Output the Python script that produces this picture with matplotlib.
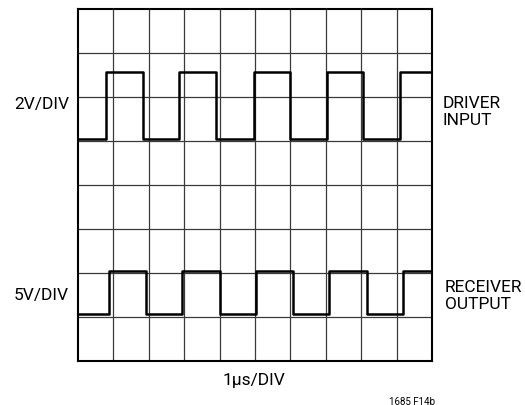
import numpy as np
import matplotlib
matplotlib.use('Agg')
import matplotlib.pyplot as plt

plt.rcParams['font.family'] = ['Roboto', 'DejaVu Sans']

# scope screen: 10 x 8 divisions
n_xdiv = 10
n_ydiv = 8

# driver input trace (div units)
drv_edges = [0.78, 1.83, 2.86, 3.90, 4.97, 5.99, 7.02, 8.06, 9.11]
drv_low = 5.05
drv_high = 6.57

# receiver output trace (div units)
rcv_edges = [0.88, 1.92, 2.95, 4.01, 5.03, 6.06, 7.10, 8.15, 9.19]
rcv_low = 1.07
rcv_high = 2.04


def square_wave(edges, low, high, x_end):
    # start low, toggle at each edge
    xs = [0.0]
    ys = [low]
    level = low
    for e in edges:
        xs.append(e)
        ys.append(level)
        level = high if level == low else low
        xs.append(e)
        ys.append(level)
    xs.append(x_end)
    ys.append(level)
    return np.array(xs), np.array(ys)


fig = plt.figure(figsize=(5.25, 4.06), dpi=100)
ax = fig.add_axes([78 / 525, 1 - 362 / 406, 354 / 525, 352 / 406])

ax.set_xlim(0, n_xdiv)
ax.set_ylim(0, n_ydiv)
for i in range(1, n_xdiv):
    ax.axvline(i, color='#3a3a3a', lw=0.9, zorder=1)
for j in range(1, n_ydiv):
    ax.axhline(j, color='#3a3a3a', lw=0.9, zorder=1)

x, y = square_wave(drv_edges, drv_low, drv_high, n_xdiv)
ax.plot(x, y, color='black', lw=1.8, zorder=3)
x, y = square_wave(rcv_edges, rcv_low, rcv_high, n_xdiv)
ax.plot(x, y, color='black', lw=1.8, zorder=3)

ax.set_xticks([])
ax.set_yticks([])
for s in ax.spines.values():
    s.set_linewidth(1.5)
    s.set_color('black')

def px(xp, yp):
    return xp / 525, 1 - yp / 406

fs = 12.5
fig.text(*px(69, 104), '2V/DIV', ha='right', va='center', fontsize=fs)
fig.text(*px(69, 296), '5V/DIV', ha='right', va='center', fontsize=fs)
fig.text(*px(443, 112), 'DRIVER\nINPUT', ha='left', va='center', fontsize=fs,
         linespacing=1.2)
fig.text(*px(445, 296), 'RECEIVER\nOUTPUT', ha='left', va='center', fontsize=fs,
         linespacing=1.2)
fig.text(*px(254, 381), '1\u00b5s/DIV', ha='center', va='center', fontsize=fs)
fig.text(*px(412, 402), '1685 F14b', ha='center', va='center', fontsize=7)

fig.savefig('out.png', dpi=100)
